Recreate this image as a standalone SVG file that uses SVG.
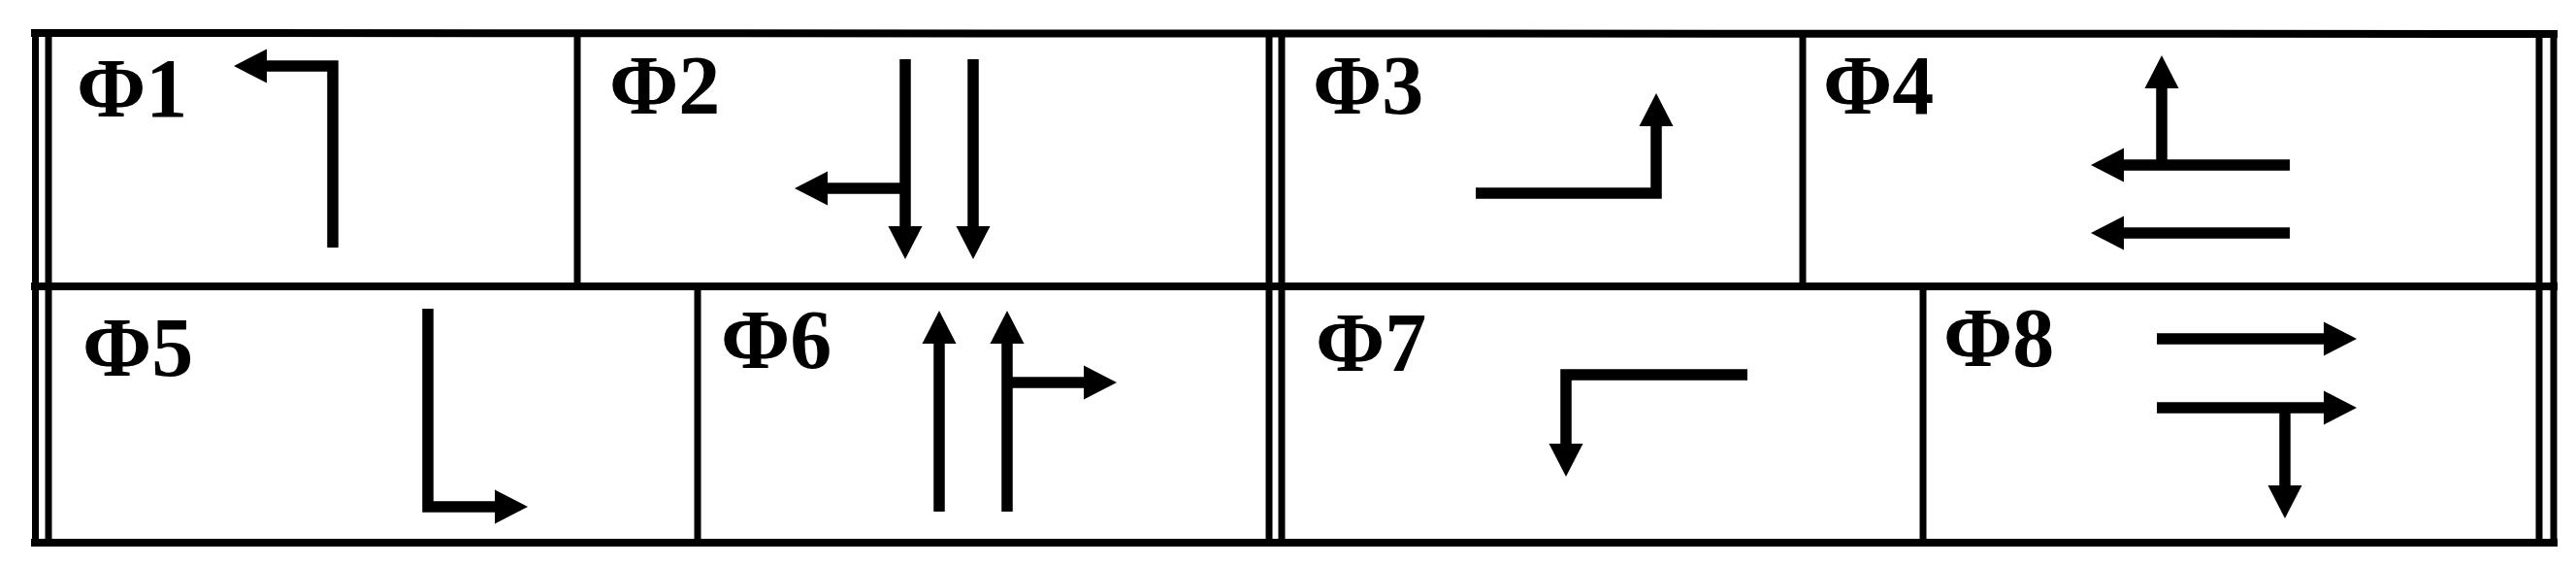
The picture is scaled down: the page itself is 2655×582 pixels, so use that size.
<svg xmlns="http://www.w3.org/2000/svg" width="2655" height="582" viewBox="0 0 2655 582">
<style>
.grid{stroke:#000;stroke-width:8;fill:none;stroke-linecap:square}
.vgrid{stroke:#000;stroke-width:7;fill:none}
.shaft{stroke:#000;stroke-width:11.5;fill:none;stroke-linejoin:miter;stroke-linecap:butt}
.lbl{font-family:"Liberation Serif","Times New Roman",serif;font-weight:bold;font-size:86px;fill:#000}
</style>
<defs>
<polygon id="head" points="0,0 -34,-17.5 -34,17.5" fill="#000"/>
</defs>
<rect width="2655" height="582" fill="#fff"/>
<g id="grid">
<line class="grid" x1="36" y1="34" x2="2632" y2="35"/>
<line class="grid" x1="36" y1="295" x2="2632" y2="295"/>
<line class="grid" x1="36" y1="559" x2="2632" y2="559"/>
<line class="vgrid" x1="36.5" y1="31" x2="36.5" y2="562"/>
<line class="vgrid" x1="50" y1="34" x2="50" y2="559"/>
<line class="vgrid" x1="1308" y1="34" x2="1308" y2="559"/>
<line class="vgrid" x1="1321" y1="34" x2="1321" y2="559"/>
<line class="vgrid" x1="2617" y1="35" x2="2617" y2="559"/>
<line class="vgrid" x1="2632" y1="31" x2="2632" y2="562"/>
<line class="vgrid" x1="595" y1="34" x2="595" y2="295"/>
<line class="vgrid" x1="1858" y1="34" x2="1858" y2="295"/>
<line class="vgrid" x1="719" y1="295" x2="719" y2="559"/>
<line class="vgrid" x1="1982" y1="295" x2="1982" y2="559"/>
</g>
<g id="phase1">
<text class="lbl" x="79" y="120">Φ1</text>
<path class="shaft" d="M343,255 V68 H272"/>
<use href="#head" transform="translate(241,68) rotate(180)"/>
</g>
<g id="phase2">
<text class="lbl" x="628" y="117">Φ2</text>
<path class="shaft" d="M933,61 V236"/>
<path class="shaft" d="M1003,61 V236"/>
<path class="shaft" d="M933,194 H851"/>
<use href="#head" transform="translate(933,267) rotate(90)"/>
<use href="#head" transform="translate(1003,267) rotate(90)"/>
<use href="#head" transform="translate(819,194) rotate(180)"/>
</g>
<g id="phase3">
<text class="lbl" x="1353" y="117">Φ3</text>
<path class="shaft" d="M1521,199 H1707 V127"/>
<use href="#head" transform="translate(1707,96) rotate(-90)"/>
</g>
<g id="phase4">
<text class="lbl" x="1879" y="117">Φ4</text>
<path class="shaft" d="M2228,170 V88"/>
<use href="#head" transform="translate(2228,57) rotate(-90)"/>
<path class="shaft" d="M2360,170 H2186"/>
<use href="#head" transform="translate(2155,170) rotate(180)"/>
<path class="shaft" d="M2360,240 H2186"/>
<use href="#head" transform="translate(2155,240) rotate(180)"/>
</g>
<g id="phase5">
<text class="lbl" x="85" y="387">Φ5</text>
<path class="shaft" d="M441,318 V522 H513"/>
<use href="#head" transform="translate(544,522)"/>
</g>
<g id="phase6">
<text class="lbl" x="743" y="379">Φ6</text>
<path class="shaft" d="M968,527 V351"/>
<use href="#head" transform="translate(968,320) rotate(-90)"/>
<path class="shaft" d="M1038,527 V351"/>
<use href="#head" transform="translate(1038,320) rotate(-90)"/>
<path class="shaft" d="M1038,394 H1120"/>
<use href="#head" transform="translate(1151,394)"/>
</g>
<g id="phase7">
<text class="lbl" x="1356" y="382">Φ7</text>
<path class="shaft" d="M1801,386 H1614 V460"/>
<use href="#head" transform="translate(1614,491) rotate(90)"/>
</g>
<g id="phase8">
<text class="lbl" x="2003" y="377">Φ8</text>
<path class="shaft" d="M2223,349 H2398"/>
<use href="#head" transform="translate(2429,349)"/>
<path class="shaft" d="M2223,420 H2398"/>
<use href="#head" transform="translate(2429,420)"/>
<path class="shaft" d="M2355,420 V503"/>
<use href="#head" transform="translate(2355,534) rotate(90)"/>
</g>
</svg>
